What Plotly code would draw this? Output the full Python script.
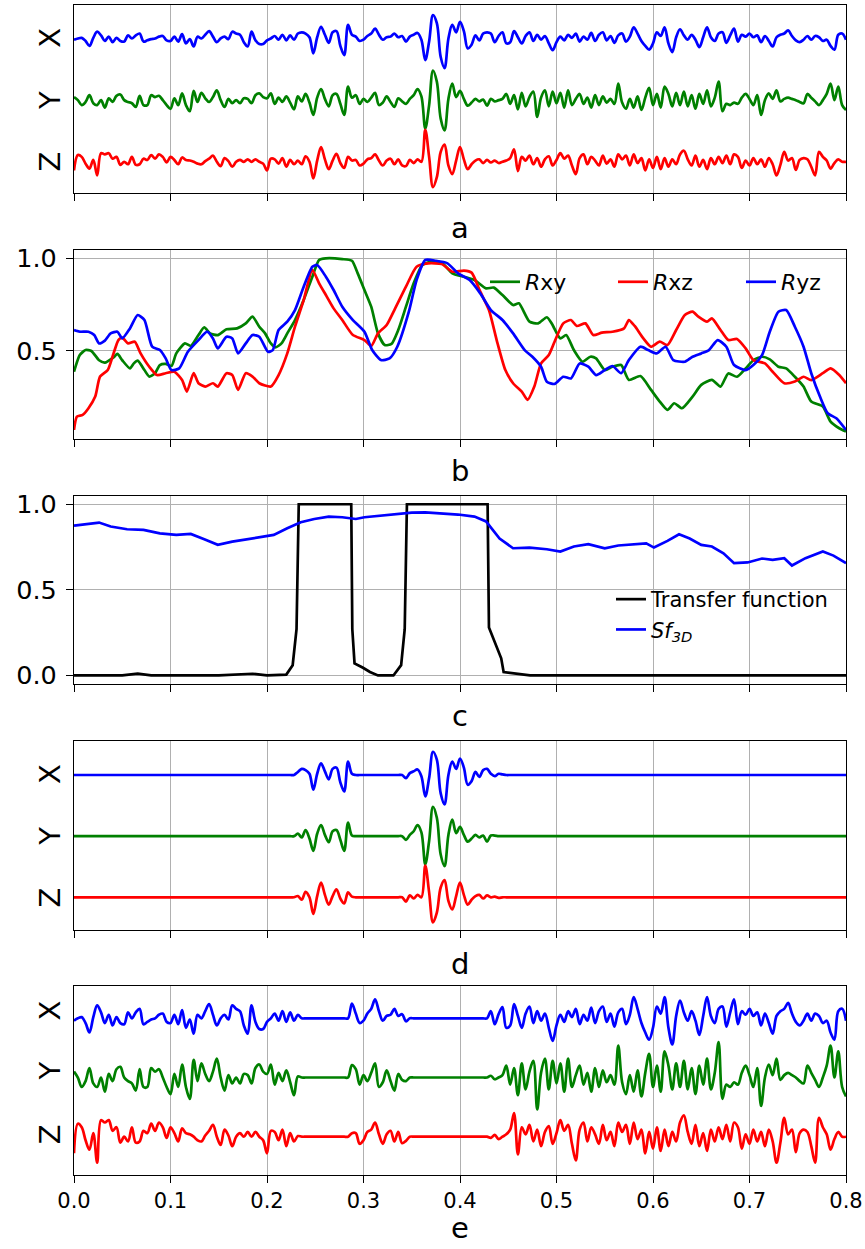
import plotly.graph_objects as go

FONT = "DejaVu Sans"
BLUE, GREEN, RED, BLACK = "#0000ff", "#008000", "#ff0000", "#000000"

# ---------------- data ----------------
# time grid of the seismic-like traces (panels a, d, e)
t = [round(0.004 * i, 3) for i in range(201)]

# panel a : raw three components (deviation from each channel baseline, 1/100 channel spacing)
a_x = [-2, 0, 1, -4, -12, 1, 11, 5, -4, 3,
       -6, 1, -4, -5, 5, 0, 5, 8, -5, -3,
       -1, 0, 3, 4, -3, -4, 3, -5, 7, -8,
       -1, -13, 3, 0, 6, 12, 3, -6, 0, 3,
       -1, 11, 8, 6, -6, -13, 11, -3, -9, -9,
       -3, 0, 4, -2, 6, -3, 5, -2, 8, 10,
       8, 2, -24, 2, 19, 6, -7, 10, 12, -12,
       -27, 22, 6, 3, -4, -2, 4, 8, 16, 6,
       -2, 2, 3, 8, 2, 4, -5, 3, 6, 9,
       -2, -35, -5, 38, 25, -30, -48, 0, 22, 10,
       27, 12, -16, -10, 5, -3, 8, 10, 8, -6,
       4, 10, -8, -6, 12, 2, -8, 4, 10, -4,
       6, -2, 4, -8, -19, -6, 3, -3, 6, 1,
       8, -5, 3, -2, 9, -4, 6, 10, -3, 4,
       -7, 5, 8, -5, 3, 18, 8, -4, -12, -18,
       -8, 10, 4, 18, -8, -22, 2, 15, 5, -2,
       6, -2, -14, 2, 18, 2, -4, 8, 10, -7,
       5, 16, -5, 6, 3, 8, 2, 5, -6, 4,
       -4, -13, 2, 6, 8, 13, 4, -3, -6, -2,
       4, -2, 4, 2, -4, -2, -12, -18, 6, 8,
       -2]
a_y = [5, 0, -8, -3, 8, -5, -8, 0, -12, 3,
       -3, 7, 9, 0, -3, -5, -11, 7, -8, -8,
       8, 5, 7, 0, -8, -14, 3, -8, 11, -8,
       -18, 15, -3, 12, 3, -3, 5, 16, 0, -11,
       2, -5, 0, -5, 3, 2, -5, 8, 11, 5,
       3, 11, -6, 4, -3, 6, -4, -15, 6, -2,
       10, -4, -24, 4, 18, 2, -10, 8, 10, -6,
       -24, 22, 4, 8, -6, 2, -3, 4, 12, -8,
       -4, 6, -3, -11, 3, -2, -6, 2, 8, 18,
       6, -46, -8, 48, 30, -30, -49, 2, 27, 5,
       15, 2, -9, -4, 2, -2, 1, -9, 2, -2,
       0, 2, 10, -6, 8, -15, 12, -10, 5, 14,
       -27, 4, 16, -10, 14, -5, 12, -12, 16, -8,
       2, 10, -6, 4, -12, 8, -8, 6, -4, 2,
       -6, 27, -4, -14, 2, -12, 6, -16, 4, 20,
       -8, 10, -12, 22, 10, -10, 12, -8, 14, -10,
       8, -14, 10, -6, 16, -10, 4, 30, -18, -6,
       -8, -4, -6, 4, 10, 2, -8, 8, -24, 0,
       11, 2, 16, -2, 2, 4, 2, 0, -3, -5,
       10, 4, -2, -8, 0, 10, 27, 0, 22, -8,
       -16]
a_z = [-14, 11, 8, -3, -11, 3, -22, 14, 12, 14,
       5, 8, -5, 0, -4, 8, -5, -4, 5, 3,
       11, 5, 12, 8, -1, 8, 3, -4, 7, 3,
       2, 0, -3, -4, 1, 5, 10, 0, -7, 6,
       1, -8, 0, 3, 0, 4, 0, 4, 0, -3,
       -14, 5, 4, -3, 6, -8, 3, -4, 2, -4,
       9, 0, -27, 2, 24, 4, -12, 2, 13, -2,
       -10, 8, 2, 3, -6, -3, 4, 6, 12, 2,
       -6, 2, 5, -4, 4, -6, -7, 3, -2, 4,
       0, 52, 8, -41, -25, 16, 28, -6, -20, 2,
       24, 4, -12, -4, 2, 4, -2, 3, -1, 2,
       -2, 0, 2, 6, 20, -15, 8, 2, 10, -4,
       6, -8, 4, 9, -6, 3, 14, 5, 10, -6,
       -20, 6, 12, -4, 8, 2, -6, 10, -3, 4,
       -8, 12, 4, 10, -6, 12, -2, 6, -14, 4,
       -10, 8, -12, 6, -8, 4, -4, 12, 18, 4,
       -6, 10, -8, 3, -12, 6, -4, 8, -2, 10,
       -4, 12, 8, -10, 2, -6, 6, -4, 4, -8,
       6, -4, -22, -5, 16, 2, 6, -13, 3, 6,
       4, -8, -22, 16, 8, 2, -11, -2, 4, 0,
       0]

# panel d : windowed (kept) part -- flat zero outside the two windows
d_x = ([0] * 57 + [0, 5, 10, 8, 2, -24, 2, 19, 6, -7, 10, 12, -12, -27, 22, 2, 0] + [0] * 11 +
       [0, -5, 3, 6, 9, -2, -35, -5, 38, 25, -30, -48, 0, 22, 10, 27, 12, -16, -10, 5,
        -3, 8, 10, 2, -2, 2, 1] + [0] * 89)
d_y = ([0] * 57 + [0, 4, -2, 10, -4, -24, 4, 18, 2, -10, 8, 10, -6, -24, 22, 1, 0] + [0] * 11 +
       [0, -6, 2, 8, 18, 6, -46, -8, 48, 30, -30, -49, 2, 27, 5, 15, 2, -9, -4, 2,
        -2, 1, -9, 1, 1, 0, 0] + [0] * 89)
d_z = ([0] * 57 + [0, 2, -4, 9, 0, -27, 2, 24, 4, -12, 2, 13, -2, -10, 8, 1, 0] + [0] * 11 +
       [0, -7, 3, -2, 4, 0, 52, 8, -41, -25, 16, 28, -6, -20, 2, 24, 4, -12, -4, 2,
        4, -2, 3, 0, 1, -1, 0] + [0] * 89)

# panel e : residual part (windows removed, re-normalised)
e_x = [-4, 0, 2, -8, -24, 2, 22, 10, -8, 6,
       -12, 2, -8, -10, 10, 0, 10, 16, -10, -6,
       -2, 0, 6, 8, -6, -8, 6, -10, 14, -16,
       -2, -26, 6, 0, 12, 24, 6, -12, 0, 6,
       -2, 22, 16, 12, -12, -26, 22, -6, -18, -18,
       -6, 0, 8, -4, 12, -6, 10, -4, 6, 0,
       0, 0, 0, 0, 0, 0, 0, 0, 0, 0,
       0, 0, 25, 8, -8, -4, 8, 16, 32, 12,
       -4, 4, 6, 16, 4, 7, -5, 0, 0, 0,
       0, 0, 0, 0, 0, 0, 0, 0, 0, 0,
       0, 0, 0, 0, 0, 0, 0, 0, 12, -10,
       7, 19, -16, -12, 24, 4, -16, 8, 20, -8,
       12, -4, 8, -16, -38, -12, 6, -6, 12, 2,
       16, -10, 6, -4, 18, -8, 12, 20, -6, 8,
       -14, 10, 16, -10, 6, 36, 16, -8, -24, -36,
       -16, 20, 8, 36, -16, -44, 4, 30, 10, -4,
       12, -4, -28, 4, 36, 4, -8, 16, 20, -14,
       10, 32, -10, 12, 6, 16, 4, 10, -12, 8,
       -8, -26, 4, 12, 16, 26, 8, -6, -12, -4,
       8, -4, 8, 4, -8, -4, -24, -36, 12, 16,
       -4]
e_y = [10, 0, -16, -6, 16, -10, -16, 0, -24, 6,
       -6, 14, 18, 0, -6, -10, -22, 14, -16, -16,
       16, 10, 14, 0, -16, -28, 6, -16, 22, -16,
       -36, 30, -6, 24, 6, -6, 10, 32, 0, -22,
       4, -10, 0, -10, 6, 4, -10, 16, 22, 10,
       6, 22, -12, 8, -6, 12, -8, -30, 2, 0,
       0, 0, 0, 0, 0, 0, 0, 0, 0, 0,
       0, 0, 21, 14, -12, 4, -6, 8, 24, -16,
       -8, 12, -6, -22, 6, -4, -6, 0, 0, 0,
       0, 0, 0, 0, 0, 0, 0, 0, 0, 0,
       0, 0, 0, 0, 0, 0, 0, 0, 3, -3,
       0, 4, 20, -12, 16, -30, 24, -20, 10, 28,
       -54, 8, 32, -20, 28, -10, 24, -24, 32, -16,
       4, 20, -12, 8, -24, 16, -16, 12, -8, 4,
       -12, 54, -8, -28, 4, -24, 12, -32, 8, 40,
       -16, 20, -24, 44, 20, -20, 24, -16, 28, -20,
       16, -28, 20, -12, 32, -20, 8, 60, -36, -12,
       -16, -8, -12, 8, 20, 4, -16, 16, -48, 0,
       22, 4, 32, -4, 4, 8, 4, 0, -6, -10,
       20, 8, -4, -16, 0, 20, 54, 0, 44, -16,
       -32]
e_z = [-28, 22, 16, -6, -22, 6, -44, 28, 24, 28,
       10, 16, -10, 0, -8, 16, -10, -8, 10, 6,
       22, 10, 24, 16, -2, 16, 6, -8, 14, 6,
       4, 0, -6, -8, 2, 10, 20, 0, -14, 12,
       2, -16, 0, 6, 0, 8, 0, 8, 0, -6,
       -28, 10, 8, -6, 12, -16, 6, -8, 1, 0,
       0, 0, 0, 0, 0, 0, 0, 0, 0, 0,
       0, 0, 6, 6, -12, -6, 8, 12, 24, 4,
       -12, 4, 10, -8, 8, -11, -7, 0, 0, 0,
       0, 0, 0, 0, 0, 0, 0, 0, 0, 0,
       0, 0, 0, 0, 0, 0, 0, 0, -2, 3,
       -4, 0, 4, 12, 40, -30, 16, 4, 20, -8,
       12, -16, 8, 18, -12, 6, 28, 10, 20, -12,
       -40, 12, 24, -8, 16, 4, -12, 20, -6, 8,
       -16, 24, 8, 20, -12, 24, -4, 12, -28, 8,
       -20, 16, -24, 12, -16, 8, -8, 24, 36, 8,
       -12, 20, -16, 6, -24, 12, -8, 16, -4, 20,
       -8, 24, 16, -20, 4, -12, 12, -8, 8, -16,
       12, -8, -44, -10, 32, 4, 12, -26, 6, 12,
       8, -16, -44, 32, 16, 4, -22, -4, 8, 0,
       0]

channel_names = ["X", "Y", "Z"]
channel_offset = {"X": 200, "Y": 100, "Z": 0}

# panel b : correlation curves
rxy_t = [0.000, 0.006, 0.012, 0.018, 0.026, 0.032, 0.041, 0.045, 0.050, 0.058, 0.062, 0.066, 0.073, 0.078,
         0.084, 0.089, 0.095, 0.101, 0.106, 0.115, 0.121, 0.129, 0.135, 0.141, 0.149, 0.158, 0.169, 0.178,
         0.185, 0.192, 0.198, 0.204, 0.209, 0.215, 0.221, 0.229, 0.238, 0.247, 0.254, 0.261, 0.278, 0.288,
         0.294, 0.301, 0.308, 0.315, 0.322, 0.329, 0.336, 0.344, 0.352, 0.361, 0.370, 0.381, 0.392, 0.404,
         0.415, 0.427, 0.435, 0.444, 0.455, 0.461, 0.472, 0.481, 0.490, 0.495, 0.504, 0.510, 0.518, 0.527,
         0.535, 0.541, 0.550, 0.558, 0.567, 0.575, 0.587, 0.598, 0.607, 0.615, 0.622, 0.630, 0.641, 0.650,
         0.661, 0.670, 0.678, 0.687, 0.696, 0.704, 0.713, 0.721, 0.730, 0.738, 0.747, 0.756, 0.764, 0.776,
         0.784, 0.793, 0.800]
rxy_v = [0.388, 0.478, 0.505, 0.500, 0.450, 0.437, 0.466, 0.484, 0.450, 0.406, 0.433, 0.448, 0.397, 0.362,
         0.380, 0.424, 0.430, 0.419, 0.487, 0.541, 0.527, 0.586, 0.628, 0.595, 0.586, 0.617, 0.622, 0.649,
         0.685, 0.631, 0.595, 0.541, 0.520, 0.541, 0.595, 0.667, 0.775, 0.901, 0.991, 1.000, 0.996, 0.987,
         0.919, 0.829, 0.739, 0.595, 0.532, 0.538, 0.613, 0.739, 0.865, 0.964, 0.982, 0.977, 0.919, 0.901,
         0.883, 0.838, 0.842, 0.802, 0.748, 0.757, 0.658, 0.649, 0.682, 0.649, 0.568, 0.586, 0.505, 0.442,
         0.469, 0.460, 0.397, 0.415, 0.424, 0.344, 0.365, 0.290, 0.227, 0.182, 0.218, 0.191, 0.254, 0.317,
         0.344, 0.308, 0.379, 0.361, 0.406, 0.450, 0.469, 0.455, 0.415, 0.406, 0.361, 0.308, 0.227, 0.200,
         0.119, 0.083, 0.065]
rxz_t = [0.000, 0.003, 0.009, 0.015, 0.022, 0.027, 0.035, 0.041, 0.046, 0.050, 0.056, 0.063, 0.069, 0.078,
         0.086, 0.095, 0.104, 0.112, 0.117, 0.124, 0.129, 0.136, 0.144, 0.149, 0.158, 0.164, 0.170, 0.178,
         0.185, 0.192, 0.204, 0.212, 0.221, 0.229, 0.238, 0.247, 0.254, 0.261, 0.269, 0.278, 0.289, 0.301,
         0.308, 0.315, 0.324, 0.332, 0.344, 0.355, 0.367, 0.381, 0.392, 0.404, 0.412, 0.421, 0.430, 0.438,
         0.447, 0.455, 0.464, 0.470, 0.477, 0.484, 0.492, 0.498, 0.507, 0.515, 0.521, 0.530, 0.538, 0.547,
         0.558, 0.570, 0.575, 0.581, 0.590, 0.598, 0.607, 0.615, 0.624, 0.633, 0.641, 0.647, 0.656, 0.661,
         0.670, 0.678, 0.687, 0.696, 0.704, 0.716, 0.724, 0.736, 0.747, 0.756, 0.764, 0.776, 0.784, 0.793,
         0.800]
rxz_v = [0.074, 0.146, 0.155, 0.191, 0.254, 0.362, 0.397, 0.487, 0.559, 0.572, 0.541, 0.550, 0.487, 0.415,
         0.370, 0.380, 0.388, 0.343, 0.281, 0.380, 0.326, 0.308, 0.326, 0.308, 0.380, 0.370, 0.290, 0.380,
         0.362, 0.326, 0.308, 0.370, 0.487, 0.631, 0.775, 0.937, 0.865, 0.802, 0.730, 0.667, 0.586, 0.559,
         0.527, 0.595, 0.640, 0.721, 0.847, 0.955, 0.973, 0.969, 0.928, 0.934, 0.923, 0.820, 0.721, 0.559,
         0.397, 0.326, 0.281, 0.236, 0.308, 0.433, 0.478, 0.550, 0.649, 0.667, 0.635, 0.649, 0.586, 0.599,
         0.604, 0.622, 0.667, 0.635, 0.568, 0.523, 0.550, 0.532, 0.613, 0.694, 0.712, 0.685, 0.658, 0.676,
         0.613, 0.559, 0.565, 0.514, 0.451, 0.433, 0.388, 0.326, 0.335, 0.361, 0.343, 0.380, 0.406, 0.370,
         0.326]
ryz_t = [0.000, 0.006, 0.015, 0.021, 0.026, 0.032, 0.038, 0.045, 0.050, 0.058, 0.066, 0.073, 0.081, 0.089,
         0.095, 0.101, 0.109, 0.118, 0.129, 0.138, 0.144, 0.149, 0.158, 0.164, 0.170, 0.178, 0.185, 0.192,
         0.201, 0.206, 0.212, 0.221, 0.229, 0.238, 0.247, 0.252, 0.261, 0.269, 0.278, 0.289, 0.301, 0.309,
         0.318, 0.327, 0.335, 0.347, 0.355, 0.364, 0.375, 0.387, 0.398, 0.410, 0.421, 0.432, 0.444, 0.455,
         0.467, 0.475, 0.484, 0.490, 0.498, 0.507, 0.515, 0.524, 0.533, 0.541, 0.550, 0.558, 0.567, 0.575,
         0.587, 0.595, 0.604, 0.613, 0.621, 0.633, 0.641, 0.650, 0.658, 0.667, 0.676, 0.684, 0.696, 0.704,
         0.713, 0.721, 0.730, 0.738, 0.747, 0.756, 0.764, 0.773, 0.781, 0.790, 0.800]
ryz_v = [0.613, 0.604, 0.604, 0.586, 0.541, 0.556, 0.595, 0.604, 0.568, 0.622, 0.694, 0.667, 0.523, 0.505,
         0.460, 0.397, 0.406, 0.496, 0.559, 0.604, 0.568, 0.514, 0.577, 0.568, 0.487, 0.541, 0.586, 0.577,
         0.496, 0.505, 0.613, 0.658, 0.721, 0.847, 0.955, 0.964, 0.901, 0.829, 0.739, 0.667, 0.604, 0.505,
         0.451, 0.460, 0.523, 0.712, 0.883, 0.991, 0.987, 0.973, 0.919, 0.883, 0.811, 0.721, 0.667, 0.595,
         0.505, 0.469, 0.415, 0.334, 0.322, 0.361, 0.352, 0.433, 0.415, 0.370, 0.397, 0.419, 0.380, 0.451,
         0.523, 0.505, 0.487, 0.523, 0.451, 0.442, 0.469, 0.487, 0.505, 0.559, 0.523, 0.424, 0.397, 0.424,
         0.478, 0.604, 0.712, 0.721, 0.631, 0.523, 0.380, 0.254, 0.164, 0.137, 0.074]

# panel c : transfer function and Sf3D
tf_t = [0.000, 0.050, 0.066, 0.080, 0.150, 0.185, 0.200, 0.220, 0.2266, 0.2306, 0.2329, 0.2873, 0.2884,
        0.2907, 0.2995, 0.3067, 0.315, 0.331, 0.339, 0.3427, 0.345, 0.4286, 0.430, 0.4427, 0.4452, 0.460,
        0.4726, 0.500, 0.660, 0.727, 0.800]
tf_v = [0.0, 0.0, 0.01, 0.0, 0.0, 0.01, 0.0, 0.005, 0.06, 0.27, 1.0, 1.0, 0.27,
        0.07, 0.045, 0.02, 0.0, 0.0, 0.06, 0.27, 1.0, 1.0, 0.28, 0.10, 0.02, 0.01,
        0.0, 0.0, 0.0, 0.0, 0.0]
sf_t = [0.000, 0.009, 0.026, 0.038, 0.055, 0.072, 0.089, 0.106, 0.121, 0.135, 0.149, 0.164, 0.178, 0.192,
        0.207, 0.221, 0.235, 0.249, 0.264, 0.278, 0.292, 0.301, 0.318, 0.335, 0.350, 0.364, 0.381, 0.398,
        0.415, 0.427, 0.441, 0.455, 0.472, 0.490, 0.504, 0.518, 0.533, 0.550, 0.564, 0.578, 0.593, 0.601,
        0.615, 0.627, 0.638, 0.650, 0.661, 0.673, 0.684, 0.698, 0.713, 0.724, 0.736, 0.744, 0.758, 0.776,
        0.787, 0.800]
sf_v = [0.875, 0.880, 0.893, 0.870, 0.854, 0.850, 0.830, 0.821, 0.827, 0.796, 0.763, 0.782, 0.796, 0.807,
        0.821, 0.860, 0.895, 0.914, 0.928, 0.924, 0.914, 0.924, 0.932, 0.944, 0.951, 0.953, 0.947, 0.940,
        0.928, 0.900, 0.800, 0.743, 0.747, 0.737, 0.724, 0.753, 0.767, 0.743, 0.759, 0.767, 0.772, 0.747,
        0.786, 0.825, 0.800, 0.763, 0.753, 0.714, 0.656, 0.660, 0.683, 0.675, 0.685, 0.642, 0.685, 0.724,
        0.700, 0.656]

x_ticks = [0.0, 0.1, 0.2, 0.3, 0.4, 0.5, 0.6, 0.7, 0.8]
panel_labels = ["a", "b", "c", "d", "e"]

# ---------------- figure ----------------
W, H = 865, 1249
LW = 2.7
fig = go.Figure()

def add_three(xa, ya, comps):
    for name, vals, col in zip(channel_names, comps, [BLUE, GREEN, RED]):
        off = channel_offset[name]
        fig.add_trace(go.Scatter(x=t, y=[off + v for v in vals], mode="lines", xaxis=xa, yaxis=ya,
                                 line=dict(color=col, width=LW, shape="spline", smoothing=1.0),
                                 showlegend=False, hoverinfo="skip"))

add_three("x", "y", [a_x, a_y, a_z])

for nm, tt, vv, col in [("<i>R</i>xy", rxy_t, rxy_v, GREEN), ("<i>R</i>xz", rxz_t, rxz_v, RED),
                        ("<i>R</i>yz", ryz_t, ryz_v, BLUE)]:
    fig.add_trace(go.Scatter(x=tt, y=vv, mode="lines", xaxis="x2", yaxis="y2", name=nm,
                             line=dict(color=col, width=LW, shape="spline", smoothing=0.6),
                             legend="legend", hoverinfo="skip"))

fig.add_trace(go.Scatter(x=tf_t, y=tf_v, mode="lines", xaxis="x3", yaxis="y3", name="Transfer function",
                         line=dict(color=BLACK, width=LW), legend="legend2", hoverinfo="skip"))
fig.add_trace(go.Scatter(x=sf_t, y=sf_v, mode="lines", xaxis="x3", yaxis="y3",
                         name="<i>Sf</i><sub><i>3D</i></sub>",
                         line=dict(color=BLUE, width=LW), legend="legend2", hoverinfo="skip"))

add_three("x4", "y4", [d_x, d_y, d_z])
add_three("x5", "y5", [e_x, e_y, e_z])

XD = [74 / W, 846 / W]
def ydom(top, bot):
    return [1 - bot / H, 1 - top / H]

panel_px = [(5, 193.3), (250, 439), (495.7, 684), (741, 930), (986, 1175)]
title_px = [228, 471, 716, 964, 1228]

layout = dict(width=W, height=H, margin=dict(l=0, r=0, t=0, b=0, autoexpand=False),
              paper_bgcolor="white", plot_bgcolor="white",
              font=dict(family=FONT, color="black"))

for i in range(5):
    sfx = "" if i == 0 else str(i + 1)
    layout["xaxis" + sfx] = dict(
        domain=XD, range=[0, 0.8], anchor="y" + sfx, tickvals=x_ticks, tickformat=".1f",
        showticklabels=(i == 4), ticks="outside", ticklen=7, tickwidth=1.2, tickcolor="black",
        showgrid=True, gridcolor="#b0b0b0", gridwidth=0.8, showline=True, mirror=True,
        linecolor="black", linewidth=1.3, zeroline=False, automargin=False,
        tickfont=dict(family=FONT, size=21, color="black"))

common_y = dict(showline=True, mirror=True, linecolor="black", linewidth=1.3, zeroline=False,
                automargin=False)

# stacked-channel panels
ch_cfg = {0: ([-51.1, 254.3], [194.0, 92.9, -6.5]),
          3: ([-53.5, 255.6], [194.6, 93.2, -7.7]),
          4: ([-64.7, 254.6], [205.6, 104.2, -3.4])}
for i, (rng, tv) in ch_cfg.items():
    sfx = "" if i == 0 else str(i + 1)
    layout["yaxis" + sfx] = dict(
        domain=ydom(*panel_px[i]), range=rng, anchor="x" + sfx, tickvals=tv, ticktext=channel_names,
        tickangle=-90, ticks="", showgrid=False, ticklabelstandoff=1,
        tickfont=dict(family=FONT, size=29, color="black"), **common_y)

layout["yaxis2"] = dict(domain=ydom(*panel_px[1]), range=[0.025, 1.045], anchor="x2",
                        tickvals=[0.5, 1.0], ticktext=["0.5", "1.0"], ticks="outside", ticklen=7,
                        tickwidth=1.2, tickcolor="black", showgrid=True, gridcolor="#b0b0b0",
                        gridwidth=0.8, ticklabelstandoff=4,
                        tickfont=dict(family=FONT, size=25.5, color="black"), **common_y)
layout["yaxis3"] = dict(domain=ydom(*panel_px[2]), range=[-0.05, 1.05], anchor="x3",
                        tickvals=[0.0, 0.5, 1.0], ticktext=["0.0", "0.5", "1.0"], ticks="outside",
                        ticklen=7, tickwidth=1.2, tickcolor="black", showgrid=True,
                        gridcolor="#b0b0b0", gridwidth=0.8, ticklabelstandoff=4,
                        tickfont=dict(family=FONT, size=25.5, color="black"), **common_y)

layout["legend"] = dict(orientation="h", x=485 / W, xanchor="left", y=1 - 261 / H, yanchor="top",
                        bgcolor="rgba(0,0,0,0)", borderwidth=0, entrywidth=83, entrywidthmode="pixels",
                        font=dict(family=FONT, size=22, color="black"))
layout["legend2"] = dict(orientation="v", x=611 / W, xanchor="left", y=1 - 579 / H, yanchor="top",
                         bgcolor="rgba(0,0,0,0)", borderwidth=0,
                         font=dict(family=FONT, size=21, color="black"))

layout["annotations"] = [dict(text=lab, x=460 / W, y=1 - yp / H, xref="paper", yref="paper",
                              showarrow=False, xanchor="center", yanchor="middle",
                              font=dict(family=FONT, size=29, color="black"))
                         for lab, yp in zip(panel_labels, title_px)]

fig.update_layout(**layout)
fig.write_html("out.html")
